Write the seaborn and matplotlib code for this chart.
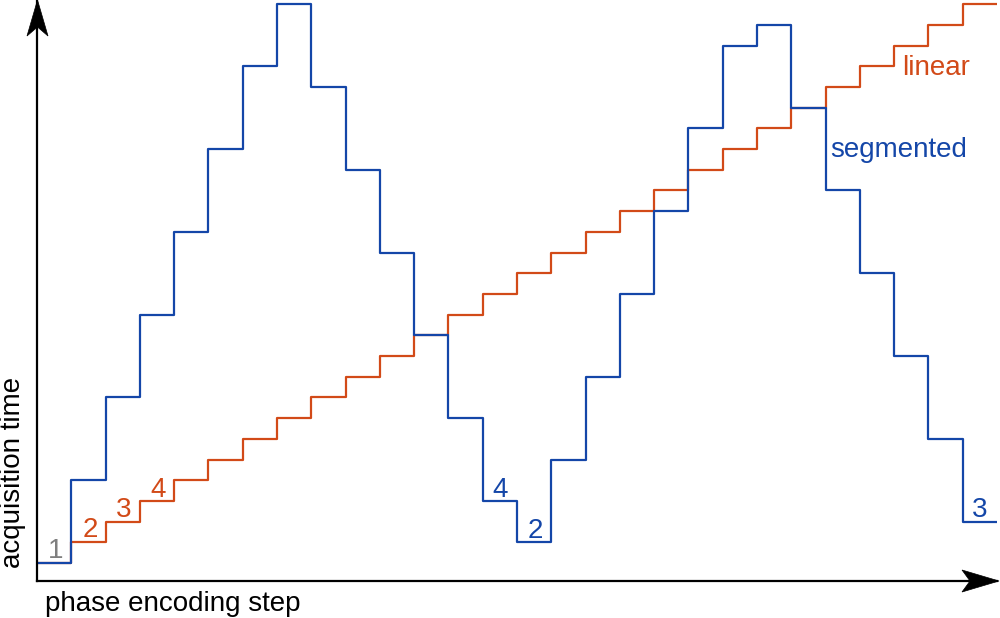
import matplotlib
matplotlib.use("Agg")
import matplotlib.pyplot as plt
import seaborn as sns
import pandas as pd
from matplotlib.patches import Polygon

# data
steps = list(range(28))
linear = list(range(28))
segmented = [0, 4, 8, 12, 16, 20, 24, 27, 23, 19, 15, 11, 7, 3, 1,
             5, 9, 13, 17, 21, 25, 26, 22, 18, 14, 10, 6, 2]
series_names = ["linear", "segmented"]
xlabel = "phase encoding step"
ylabel = "acquisition time"

ORANGE = "#d24a18"
BLUE = "#1446a8"
GRAY = "#7f7f7f"

sns.set_style("white")
plt.rcParams["font.family"] = ["Liberation Sans", "DejaVu Sans"]

W, H = 1000, 618
fig = plt.figure(figsize=(W / 100, H / 100), dpi=100)
ax = fig.add_axes([37 / W, (H - 581) / H, 960 / W, 581 / H])

# build long frame, extend last step to the end
xs = steps + [steps[-1] + 1]
df = pd.concat([
    pd.DataFrame({"step": xs, "time": linear + [linear[-1]], "kind": "linear"}),
    pd.DataFrame({"step": xs, "time": segmented + [segmented[-1]], "kind": "segmented"}),
])
sns.lineplot(data=df, x="step", y="time", hue="kind",
             palette={"linear": ORANGE, "segmented": BLUE},
             drawstyle="steps-post", linewidth=1.6, legend=False, ax=ax,
             estimator=None, sort=False)

ax.set_xlim(0, 28)
ax.set_ylim(-0.87, 27.2)
ax.set_xticks([])
ax.set_yticks([])
ax.set_xlabel("")
ax.set_ylabel("")
for s in ["top", "right"]:
    ax.spines[s].set_visible(False)
for s in ["left", "bottom"]:
    ax.spines[s].set_color("black")
    ax.spines[s].set_linewidth(1.6)
    ax.spines[s].set_zorder(5)
ax.patch.set_alpha(0)

def px(x, y):
    return (x / W, (H - y) / H)

# arrow heads (stealth style), in figure pixel coords (top-origin)
xa = [px(999, 581), px(962, 570), px(970, 581), px(962, 592)]
ya = [px(37.5, 0), px(27, 36), px(37.5, 27), px(48, 36)]
for pts in (xa, ya):
    fig.add_artist(Polygon(pts, closed=True, facecolor="black",
                           edgecolor="black", lw=0.5,
                           transform=fig.transFigure))

FS = 20
def ftext(x, y, s, **kw):
    fig.text(*px(x, y), s, fontsize=FS, **kw)

ftext(45, 604, xlabel, ha="left", va="center", color="black")
ftext(13, 568, ylabel, ha="center", va="bottom", rotation=90, color="black")

ftext(902, 75, series_names[0], ha="left", va="baseline", color=ORANGE)
ftext(830, 157, series_names[1], ha="left", va="baseline", color=BLUE)

ftext(56, 558, "1", ha="center", va="baseline", color=GRAY)
ftext(90, 537, "2", ha="center", va="baseline", color=ORANGE)
ftext(124, 517, "3", ha="center", va="baseline", color=ORANGE)
ftext(158, 497, "4", ha="center", va="baseline", color=ORANGE)
ftext(500, 497, "4", ha="center", va="baseline", color=BLUE)
ftext(535, 538, "2", ha="center", va="baseline", color=BLUE)
ftext(980, 517, "3", ha="center", va="baseline", color=BLUE)

fig.savefig("out.png", dpi=100)
